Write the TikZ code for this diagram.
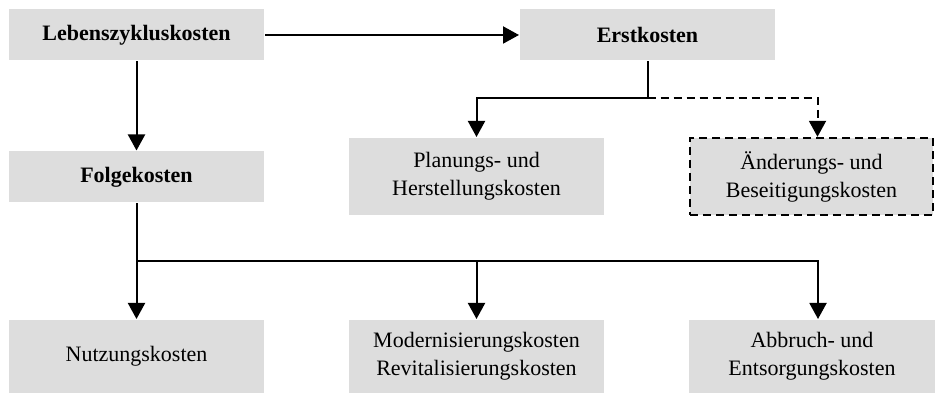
\documentclass[tikz,border=0pt]{standalone}
\usepackage{fontspec}
\setmainfont{Liberation Serif}
\usetikzlibrary{arrows.meta}
\definecolor{boxgray}{RGB}{221,221,221}

\begin{document}
\begin{tikzpicture}[x=0.5pt,y=-0.5pt,>={Triangle[length=8pt,width=8.5pt]},line width=1pt,
  cost node/.style={fill=boxgray,draw=none,align=center,inner sep=0pt,font=\fontsize{11}{14}\selectfont,minimum width=127.5pt,minimum height=25.5pt},
  top node/.style={cost node,font=\fontsize{11}{14}\selectfont\bfseries},
  low node/.style={cost node,minimum height=36.5pt}]

            \useasboundingbox (0,0) rectangle (935,394);

            \node[top node] (lzk) at (136.5,35) {Lebenszykluskosten};
            \node[top node] (ek) at (647.5,35) {Erstkosten};
            \node[top node] (fk) at (136.5,177) {Folgekosten};
            \node[low node, minimum height=38.5pt] (phk) at (476.5,176.5) {Planungs- und\\Herstellungskosten};
            \node[low node, minimum height=38.5pt, minimum width=121.5pt, draw, dash pattern=on 4pt off 2.5pt, line width=1.2pt] (abk) at (811.5,176.5) {Änderungs- und\\Beseitigungskosten};
            \node[low node] (nk) at (136.5,356.5) {Nutzungskosten};
            \node[low node] (mrk) at (476.5,356.5) {Modernisierungskosten\\Revitalisierungskosten};
            \node[low node, minimum width=123pt] (aek) at (812,356.5) {Abbruch- und\\Entsorgungskosten};

            \coordinate (esplit) at (647.5,98);
            \coordinate (fsplit) at (136.5,261);

            \draw[->] (lzk) -- (ek);
            \draw[->] (lzk) -- (fk);
            \draw (ek) -- (esplit);
            \draw[->] (esplit) -| (phk);
            \draw[->, dash pattern=on 4pt off 2.5pt] (esplit) -| ([xshift=3pt]abk.north);
            \draw (fk) -- (fsplit);
            \draw[->] (fsplit) -- (nk);
            \draw[->] (fsplit) -| (mrk);
            \draw[->] (fsplit) -| ([xshift=3pt]aek.north);

            ;
        \end{tikzpicture}
\end{document}
